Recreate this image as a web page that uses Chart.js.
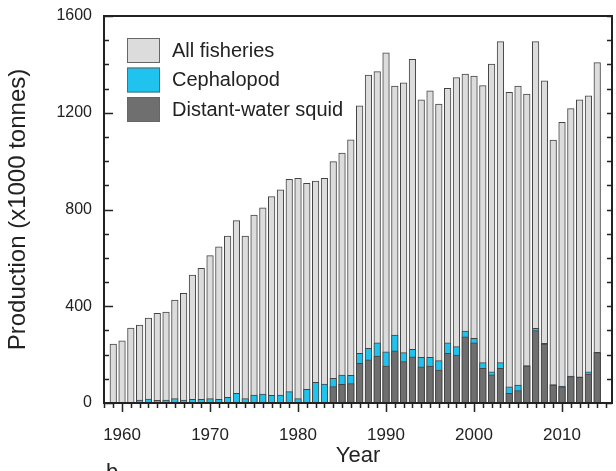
<!DOCTYPE html>
<html>
<head>
<meta charset="utf-8">
<script src="https://cdn.jsdelivr.net/npm/chart.js@4/dist/chart.umd.min.js"></script>
<style>
  body { margin: 0; background: #fff; }
  #wrap { width: 616px; height: 471px; }
</style>
</head>
<body>
<div id="wrap"><canvas id="chart" width="616" height="471"></canvas></div>
<script>
// years 1959 - 2014
const years = [];
for (let yr = 1959; yr <= 2014; yr++) years.push(yr);

const allFisheries = [
  244, 257, 310, 322, 351, 371, 376, 426, 453, 529,
  557, 609, 646, 690, 754, 690, 777, 807, 853, 881,
  925, 929, 908, 918, 929, 998, 1033, 1088, 1229, 1356,
  1370, 1448, 1310, 1324, 1421, 1253, 1291, 1236, 1301, 1345,
  1360, 1352, 1312, 1401, 1494, 1284, 1310, 1277, 1494, 1332,
  1087, 1160, 1217, 1253, 1270, 1407
];
const cephalopod = [
  0, 0, 0, 12, 16, 11, 12, 18, 12, 15,
  15, 18, 15, 23, 40, 18, 33, 37, 32, 33,
  47, 18, 57, 85, 78, 102, 115, 114, 205, 226,
  249, 212, 281, 208, 222, 189, 189, 175, 249, 233,
  297, 267, 167, 129, 167, 67, 74, 155, 309, 247,
  76, 70, 111, 108, 129, 210
];
const squid = [
  0, 0, 0, 0, 0, 0, 0, 0, 0, 0,
  0, 0, 0, 0, 0, 0, 0, 0, 0, 0,
  0, 0, 0, 0, 0, 68, 77, 80, 164, 178,
  194, 153, 216, 171, 191, 150, 153, 136, 205, 198,
  274, 249, 143, 116, 143, 40, 51, 153, 299, 244,
  74, 67, 109, 106, 120, 208
];

const seriesNames = ['All fisheries', 'Cephalopod', 'Distant-water squid'];
const seriesColors = ['#dcdcdc', '#1fc3ee', '#6f6f6f'];

const yTickStep = 400;
const yMinorStep = 100;

const FONT = '"Liberation Sans", Arial, sans-serif';
const INK = '#222';

function pts(vals) {
  return years.map((yr, i) => ({ x: yr, y: vals[i] }));
}

// frame, inward ticks and the panel legend
const decor = {
  id: 'decor',
  afterDatasetsDraw(chart) {
    const { ctx, chartArea: a, scales: { x, y } } = chart;
    ctx.save();
    ctx.strokeStyle = INK;
    ctx.lineWidth = 1.5;
    ctx.beginPath();
    for (let v = y.min; v <= y.max; v += yMinorStep) {
      const py = Math.round(y.getPixelForValue(v)) + 0.5;
      const len = v % yTickStep === 0 ? 9 : 5;
      ctx.moveTo(a.left, py); ctx.lineTo(a.left + len, py);
      ctx.moveTo(a.right, py); ctx.lineTo(a.right - 5, py);
    }
    for (let yr = Math.ceil(x.min); yr <= x.max; yr++) {
      const px = Math.round(x.getPixelForValue(yr)) + 0.5;
      const len = yr % 10 === 0 ? 9 : 5;
      ctx.moveTo(px, a.bottom); ctx.lineTo(px, a.bottom + len);
    }
    ctx.stroke();
    ctx.lineWidth = 2;
    ctx.strokeRect(a.left, a.top, a.right - a.left, a.bottom - a.top);
    ctx.restore();
  },
  afterDraw(chart) {
    const { ctx } = chart;
    ctx.save();
    ctx.font = '20px ' + FONT;
    ctx.textBaseline = 'middle';
    chart.data.datasets.forEach((ds, i) => {
      const top = 38 + i * 29.5;
      ctx.fillStyle = ds.backgroundColor;
      ctx.fillRect(127, top, 33, 25);
      ctx.strokeStyle = '#666';
      ctx.lineWidth = 1;
      ctx.strokeRect(127.5, top + 0.5, 32, 24);
      ctx.fillStyle = INK;
      ctx.fillText(ds.label, 172, top + 13);
    });
    // panel letter of the next figure, cut off by the page edge
    ctx.font = '22px ' + FONT;
    ctx.textBaseline = 'alphabetic';
    ctx.fillText('b', 106, 479);
    ctx.restore();
  }
};

const datasets = [allFisheries, cephalopod, squid].map((vals, i) => ({
  label: seriesNames[i],
  data: pts(vals),
  backgroundColor: seriesColors[i],
  borderColor: '#444',
  borderWidth: 1,
  borderSkipped: 'bottom',
  grouped: false,
  barThickness: 6.6,
  order: 3 - i
}));

new Chart(document.getElementById('chart'), {
  type: 'bar',
  data: { datasets: datasets },
  options: {
    responsive: false,
    animation: false,
    layout: { padding: { top: 16, right: 4, left: 0, bottom: 0 } },
    plugins: { legend: { display: false }, tooltip: { enabled: false } },
    scales: {
      x: {
        type: 'linear',
        min: 1957.95,
        max: 2015.68,
        offset: false,
        grid: { display: false, drawTicks: false },
        border: { display: false },
        ticks: {
          stepSize: 10,
          includeBounds: false,
          autoSkip: false,
          maxRotation: 0,
          padding: 22,
          color: INK,
          font: { family: FONT, size: 17 },
          callback: v => String(v)
        },
        title: {
          display: true,
          text: 'Year',
          color: INK,
          font: { family: FONT, size: 22 },
          padding: { top: 0, bottom: 2 }
        },
        afterFit: s => { s.height = 68; s.paddingLeft = 0; s.paddingRight = 0; }
      },
      y: {
        min: 0,
        max: 1600,
        grid: { display: false, drawTicks: false },
        border: { display: false },
        ticks: {
          stepSize: yTickStep,
          padding: 12,
          color: INK,
          font: { family: FONT, size: 16 },
          callback: v => String(v)
        },
        title: {
          display: true,
          text: 'Production (x1000 tonnes)',
          color: INK,
          font: { family: FONT, size: 24 },
          padding: { top: 4, bottom: 0 }
        },
        afterFit: s => { s.width = 104; s.paddingTop = 0; s.paddingBottom = 0; }
      }
    }
  },
  plugins: [decor]
});
</script>
</body>
</html>
